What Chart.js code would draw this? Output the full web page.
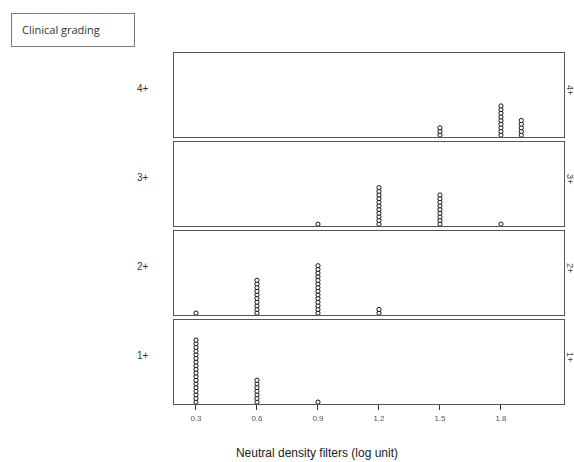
<!DOCTYPE html>
<html>
<head>
<meta charset="utf-8">
<script src="https://cdn.jsdelivr.net/npm/chart.js@4"></script>
<style>
  body { margin: 0; background: #fff; width: 574px; height: 462px; position: relative; overflow: hidden; font-family: "Liberation Sans", Arial, sans-serif; }
  .panel { position: absolute; }
  .box { position: absolute; left: 11px; top: 13px; width: 122px; height: 32px; border: 1.5px solid #7a7a7a; font-family: "Open Sans", sans-serif; font-size: 11px; color: #333; line-height: 32px; text-indent: 10px; }
  .lab { position: absolute; font-size: 10px; color: #333; }
  .rlab { position: absolute; font-size: 9px; color: #444; transform: rotate(90deg); transform-origin: left top; }
  .xtitle { position: absolute; left: 0; width: 634px; top: 446px; text-align: center; font-size: 12px; color: #222; }
</style>
</head>
<body>
<div class="box">Clinical grading</div>
<div class="xtitle">Neutral density filters (log unit)</div>

<script>
const grades = ['4+', '3+', '2+', '1+']
const filterLevels = [0.3, 0.6, 0.9, 1.2, 1.5, 1.8, 1.9]
const tickValues = [0.3, 0.6, 0.9, 1.2, 1.5, 1.8]
// number of eyes at each filter level, one list per grade
const counts4 = [0, 0, 0, 0, 3, 9, 5]
const counts3 = [0, 0, 1, 11, 9, 1, 0]
const counts2 = [1, 10, 14, 2, 0, 0, 0]
const counts1 = [18, 7, 1, 0, 0, 0, 0]

const allCounts = [counts4, counts3, counts2, counts1]

const panelLeft = 173
const panelWidth = 392
const panelHeight = 86
const panelTops = [52, 141, 230, 319]
const axisHeight = 26

const framePlugin = {
    id: 'frame',
    afterDraw: (chart) => {
        let a = chart.chartArea
        let ctx = chart.ctx
        ctx.save()
        ctx.strokeStyle = '#555'
        ctx.lineWidth = 1
        ctx.strokeRect(a.left + 0.5, a.top + 0.5, a.right - a.left - 1, a.bottom - a.top - 1)
        ctx.restore()
    }
}

const stackPoints = (counts) => {
    let pts = []
    counts.forEach((n, i) => {
        for (let k = 0; k < n; k++) {
            pts.push({ x: filterLevels[i], y: k })
        }
    })
    return pts
}

const makePanel = (idx) => {
    let isBottom = idx === grades.length - 1
    let h = panelHeight + (isBottom ? axisHeight : 0)
    let wrap = document.createElement('div')
    wrap.className = 'panel'
    wrap.style.left = panelLeft + 'px'
    wrap.style.top = panelTops[idx] + 'px'
    wrap.style.width = panelWidth + 'px'
    wrap.style.height = h + 'px'
    let canvas = document.createElement('canvas')
    wrap.appendChild(canvas)
    document.body.appendChild(wrap)

    let lab = document.createElement('div')
    lab.className = 'lab'
    lab.textContent = grades[idx]
    lab.style.left = '137px'
    lab.style.top = (panelTops[idx] + 31) + 'px'
    document.body.appendChild(lab)

    let rlab = document.createElement('div')
    rlab.className = 'rlab'
    rlab.textContent = grades[idx]
    rlab.style.left = '575px'
    rlab.style.top = (panelTops[idx] + 33) + 'px'
    document.body.appendChild(rlab)

    let xScale = {
        type: 'linear',
        min: 0.187,
        max: 2.115,
        display: isBottom,
        afterBuildTicks: (s) => { s.ticks = tickValues.map(v => ({ value: v })) },
        border: { display: false },
        grid: { drawOnChartArea: false, drawTicks: true, tickLength: 5, color: '#333' },
        ticks: {
            font: { size: 8, family: 'Liberation Sans' },
            color: '#555',
            padding: 4,
            maxRotation: 0,
            callback: (v) => v.toFixed(1)
        }
    }
    if (isBottom) {
        xScale.afterFit = (s) => { s.height = axisHeight }
    }

    let cfg = {
        type: 'scatter',
        data: {
            datasets: [{
                label: grades[idx],
                data: stackPoints(allCounts[idx]),
                pointRadius: 2.1,
                pointBorderWidth: 1,
                pointBorderColor: '#111',
                pointBackgroundColor: '#fff',
                clip: false
            }]
        },
        options: {
            responsive: true,
            maintainAspectRatio: false,
            animation: false,
            devicePixelRatio: 1,
            layout: { padding: 0, autoPadding: false },
            plugins: { legend: { display: false }, tooltip: { enabled: false } },
            scales: {
                x: xScale,
                y: {
                    min: -0.8,
                    max: 22.8,
                    display: false
                }
            }
        },
        plugins: [framePlugin]
    }
    return new Chart(canvas, cfg)
}

grades.forEach((g, i) => makePanel(i))
</script>
</body>
</html>
